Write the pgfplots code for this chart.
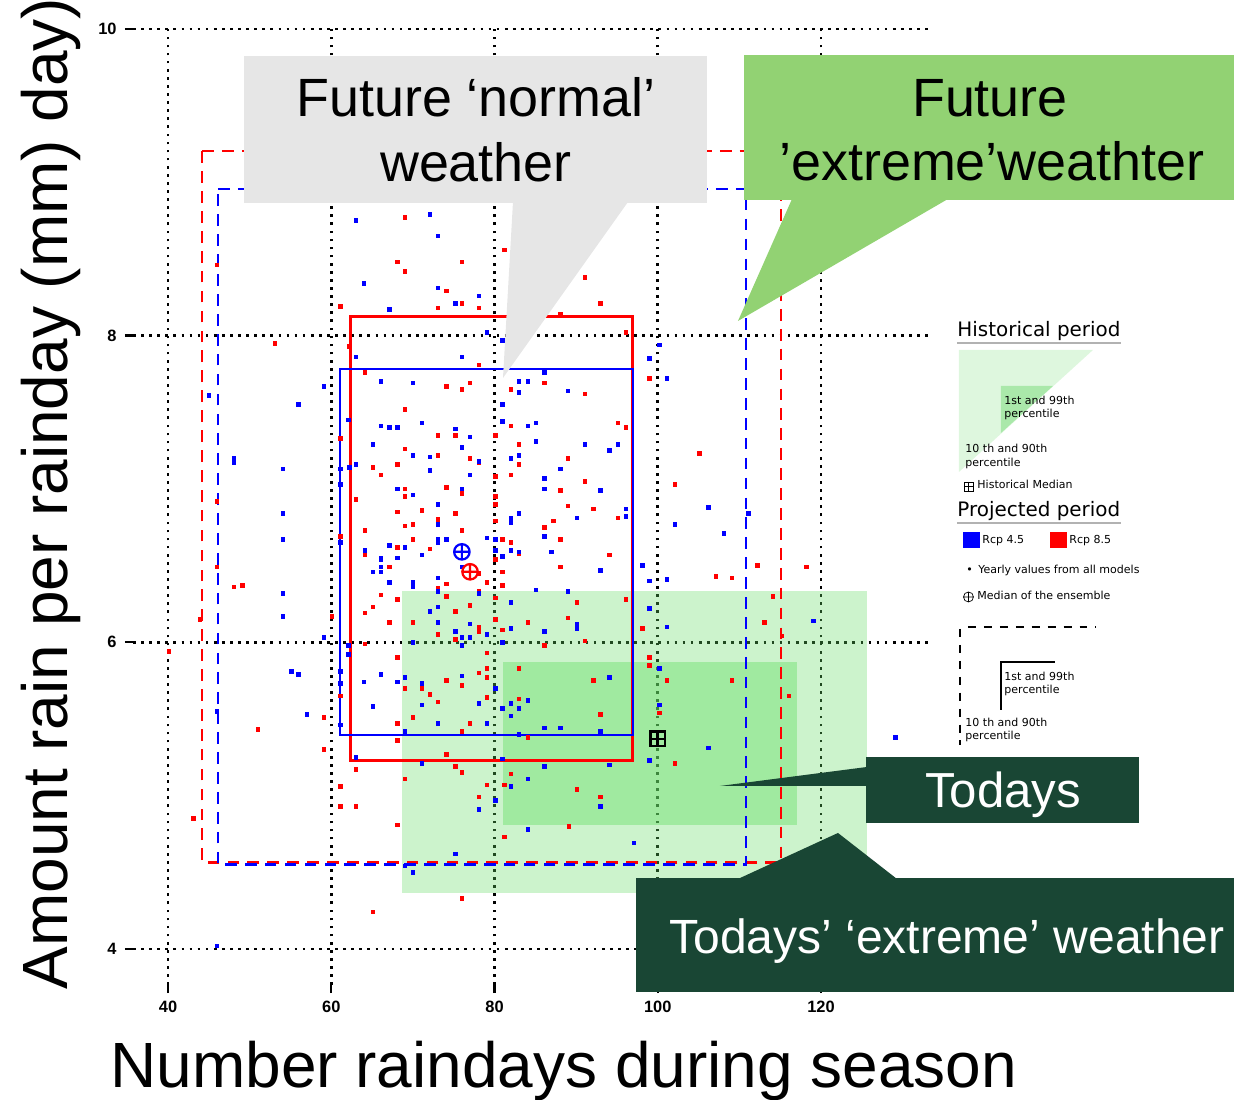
\documentclass[border=0pt]{standalone}
\usepackage{fontspec}
\setmainfont{Liberation Sans}
\newfontfamily\legfont{DejaVu Sans}
\usepackage{pgfplots}
\usepackage{pgfplotstable}
\pgfplotsset{compat=1.18}

\definecolor{calloutgrey}{RGB}{230,230,230}
\definecolor{calloutgreen}{RGB}{146,210,115}
\definecolor{darkgreen}{RGB}{25,70,52}
\definecolor{histgreen}{RGB}{100,220,100}
\definecolor{leglight}{RGB}{222,247,222}
\definecolor{legdark}{RGB}{170,232,170}

% yearly values, Rcp 8.5
\pgfplotstableread{
x y
69.0 8.77
81.2 8.56
68.1 8.48
76.0 8.48
69.0 8.42
91.1 8.38
74.1 8.29
61.1 8.19
73.1 8.18
76.0 8.21
78.1 8.18
93.0 8.21
88.1 8.14
96.1 8.02
53.1 7.95
62.2 7.93
78.1 7.81
64.1 7.76
74.1 7.67
76.0 7.65
77.0 7.69
82.0 7.65
86.1 7.69
91.1 7.62
69.0 7.52
82.0 7.41
95.1 7.43
96.1 7.40
75.2 7.35
73.1 7.35
80.1 7.35
83.0 7.29
69.0 7.26
73.1 7.22
77.0 7.20
78.1 7.17
83.0 7.16
89.0 7.20
65.1 7.14
68.1 7.16
66.1 7.09
80.1 7.08
82.0 7.09
91.1 7.05
88.1 6.99
74.1 7.01
69.0 7.00
69.0 6.95
76.0 6.97
80.1 6.95
63.0 6.93
73.1 6.90
80.1 6.90
89.0 6.89
92.1 6.87
71.1 6.86
68.1 6.85
75.2 6.84
87.2 6.79
86.1 6.75
95.1 6.81
73.1 6.80
80.1 6.79
70.0 6.77
69.0 6.76
64.1 6.73
76.0 6.73
88.1 6.67
81.0 6.67
82.0 6.65
70.0 6.67
68.1 6.62
72.1 6.61
64.1 6.57
82.0 6.60
83.0 6.58
80.1 6.54
94.1 6.57
67.1 6.49
88.1 6.49
73.1 6.35
74.1 6.38
79.1 6.39
78.1 6.45
81.0 6.37
81.0 6.46
66.1 6.31
68.1 6.28
74.1 6.30
78.1 6.33
80.1 6.29
90.1 6.26
96.1 6.28
65.1 6.23
64.1 6.19
75.2 6.20
77.0 6.24
67.1 6.13
70.0 6.13
78.1 6.10
80.1 6.15
81.0 6.08
84.1 6.13
89.0 6.16
73.1 6.05
78.1 6.07
75.2 6.02
64.1 5.99
86.1 5.98
91.1 6.01
98.1 6.09
79.1 5.93
68.1 5.90
74.1 5.75
79.1 5.83
78.1 5.80
79.1 5.77
69.0 5.70
71.1 5.70
76.0 5.72
72.1 5.66
79.1 5.64
83.0 5.83
92.1 5.75
73.1 5.61
83.0 5.63
70.0 5.51
77.0 5.47
68.1 5.47
76.0 5.42
93.0 5.53
84.1 5.38
68.1 5.36
74.1 5.27
63.0 5.17
75.2 5.19
76.0 5.15
82.0 5.14
79.1 5.07
81.2 5.07
90.1 5.04
93.0 4.99
78.1 4.99
68.1 4.81
89.1 4.80
81.2 4.73
76.0 4.33
69.0 5.11
46.0 8.46
48.1 6.36
49.1 6.37
43.9 6.15
60.1 6.17
40.1 5.94
61.1 5.65
59.1 5.51
51.0 5.43
59.1 5.30
61.1 5.06
61.1 4.93
63.0 4.93
43.1 4.85
65.1 4.24
46.0 6.49
46.0 6.92
61.1 6.69
61.1 7.33
99.0 7.72
105.1 7.23
102.1 7.03
112.2 6.50
118.2 6.49
107.1 6.43
109.1 6.42
114.1 6.30
113.1 6.13
115.2 6.04
99.0 5.90
99.0 5.85
101.1 5.75
109.1 5.75
116.1 5.65
100.2 5.54
102.1 5.21
}\redpts

% yearly values, Rcp 4.5
\pgfplotstableread{
x y
63.0 8.75
72.1 8.79
73.1 8.65
64.0 8.34
73.1 8.31
78.1 8.26
67.1 8.17
75.2 8.21
79.1 8.02
81.0 7.97
100.2 7.94
63.0 7.86
76.0 7.86
99.0 7.85
66.1 7.70
70.0 7.69
83.0 7.70
84.1 7.70
83.0 7.63
86.1 7.76
89.0 7.64
81.0 7.55
71.1 7.43
66.1 7.41
67.1 7.40
68.1 7.40
81.0 7.44
84.1 7.41
85.1 7.43
75.2 7.39
77.0 7.34
76.0 7.27
85.1 7.31
65.1 7.29
91.1 7.29
94.1 7.25
95.1 7.29
70.0 7.22
72.1 7.21
78.1 7.18
82.0 7.20
83.0 7.22
72.1 7.12
77.0 7.09
63.0 7.16
62.2 7.14
88.1 7.13
86.1 7.07
86.1 7.00
93.0 6.99
68.1 7.00
70.0 6.96
76.0 7.00
73.1 6.90
96.1 6.87
83.0 6.84
82.0 6.81
82.0 6.78
96.1 6.82
90.1 6.81
73.1 6.77
86.1 6.69
79.1 6.68
73.1 6.67
74.1 6.67
73.1 6.65
67.1 6.63
69.0 6.62
64.1 6.60
66.1 6.55
66.1 6.54
68.1 6.55
71.1 6.57
80.1 6.67
80.1 6.60
82.0 6.60
83.0 6.59
81.0 6.56
87.0 6.59
66.1 6.49
65.1 6.46
66.1 6.46
67.1 6.39
93.0 6.47
98.1 6.50
70.0 6.39
70.0 6.36
73.1 6.42
76.0 6.49
73.1 6.33
78.1 6.32
82.0 6.26
85.1 6.34
89.0 6.33
72.1 6.20
73.1 6.23
73.1 6.13
77.0 6.12
82.0 6.09
86.1 6.07
90.1 6.12
90.1 6.09
75.2 6.07
79.1 6.05
76.0 6.03
77.0 6.03
76.0 5.98
70.0 6.00
81.0 6.00
62.1 5.98
62.1 5.92
64.0 5.74
66.1 5.79
68.1 5.74
76.0 5.78
69.0 5.77
71.1 5.73
80.1 5.70
94.1 5.77
65.1 5.58
71.1 5.59
78.1 5.60
84.1 5.62
82.0 5.60
81.0 5.57
83.0 5.57
82.0 5.52
73.1 5.47
79.1 5.47
69.0 5.42
86.1 5.44
88.1 5.44
93.0 5.42
83.0 5.40
63.0 5.25
81.0 5.24
86.1 5.19
94.1 5.20
71.1 5.21
82.0 5.06
84.1 5.11
93.0 4.93
78.1 4.91
80.1 4.97
84.1 4.78
97.1 4.69
75.2 4.62
70.0 4.50
69.0 4.54
99.0 5.23
99.0 6.40
101.1 6.41
99.0 6.22
101.1 6.10
100.2 5.83
100.2 5.59
59.1 7.67
45.0 7.61
56.0 7.55
62.1 7.45
48.1 7.20
48.1 7.17
54.1 7.13
61.1 7.13
61.1 7.03
54.1 6.84
61.1 6.65
54.1 6.67
54.1 6.32
54.1 6.17
59.1 6.03
55.1 5.81
56.0 5.79
61.1 5.81
61.1 5.73
46.0 5.55
57.0 5.53
61.1 5.46
46.0 4.02
101.1 7.72
106.2 6.88
102.1 6.77
108.1 6.71
111.1 6.84
119.1 6.14
106.2 5.31
129.1 5.38
}\bluepts

\begin{document}
\begin{tikzpicture}
\useasboundingbox (0,0) rectangle (18.51cm,16.485cm);
\begin{axis}[
    at={(1.995cm,1.71cm)}, anchor=south west,
    width=11.955cm, height=14.34cm, scale only axis,
    xmin=35.71, xmax=133.35, ymin=3.765, ymax=10,
    xtick={40,60,80,100,120}, ytick={4,6,8,10},
    axis line style={draw=none},
    tick align=outside, xtick pos=bottom, ytick pos=left,
    major tick length=3.5pt,
    tick style={black, line width=1pt},
    grid=major,
    grid style={black, line width=1.15pt, dash pattern=on 1.15pt off 2.3pt},
    tick label style={font=\bfseries\fontsize{7}{8}\selectfont},
    /pgf/number format/assume math mode=true,
  ]
  % yearly values from all models
  \addplot[only marks, mark=square*, mark size=0.75pt, red] table {\redpts};
  \addplot[only marks, mark=square*, mark size=0.75pt, blue] table {\bluepts};

  % historical period: 1st-99th and 10th-90th percentile
  \addplot[draw=none, fill=histgreen, fill opacity=0.33]
    coordinates {(68.66,6.336) (125.61,6.336) (125.61,4.368) (68.66,4.368)} -- cycle;
  \addplot[draw=none, fill=histgreen, fill opacity=0.42]
    coordinates {(81.03,5.874) (117.04,5.874) (117.04,4.811) (81.03,4.811)} -- cycle;

  % projected 1st-99th percentile
  \addplot[red, line width=1.15pt, dash pattern=on 5pt off 3.5pt]
    coordinates {(44.16,9.205) (115.08,9.205) (115.08,4.563) (44.16,4.563) (44.16,9.205)};
  \addplot[blue, line width=1.15pt, dash pattern=on 5pt off 3.5pt]
    coordinates {(46.12,8.957) (110.79,8.957) (110.79,4.550) (46.12,4.550) (46.12,8.957)};

  % projected 10th-90th percentile
  \addplot[red, line width=1.25pt]
    coordinates {(62.41,8.123) (96.95,8.123) (96.95,5.228) (62.41,5.228)} -- cycle;
  \addplot[blue, line width=0.9pt]
    coordinates {(61.07,7.784) (96.95,7.784) (96.95,5.398) (61.07,5.398)} -- cycle;

  % medians
  \addplot[only marks, blue, mark=oplus, mark size=3.3pt, line width=0.95pt] coordinates {(76.0,6.59)};
  \addplot[only marks, red, mark=oplus, mark size=3.3pt, line width=0.95pt] coordinates {(77.0,6.46)};
  \addplot[only marks, black, mark=square, mark size=3.1pt, line width=1.1pt] coordinates {(100.0,5.37)};
  \addplot[only marks, black, mark=+, mark size=3.1pt, line width=1.1pt] coordinates {(100.0,5.37)};
\end{axis}

\begin{scope}[x=0.015cm, y=-0.015cm, shift={(0,16.485cm)}]
  % axis titles
  \node[anchor=base west, font=\fontsize{27.3}{30}\selectfont, inner sep=0pt]
    at (110,1088) {Number raindays during season};
  \node[anchor=base west, rotate=90, font=\fontsize{27.3}{30}\selectfont, inner sep=0pt]
    at (68,990) {Amount rain per rainday (mm) day)};

  % callouts
  \fill[calloutgrey] (244,56) rectangle (707,203);
  \fill[calloutgrey] (513,202) -- (628,202) -- (503,378) -- cycle;
  \node[anchor=base, font=\fontsize{23}{27}\selectfont] at (476,117) {Future ‘normal’};
  \node[anchor=base, font=\fontsize{23}{27}\selectfont] at (476,182) {weather};

  \fill[calloutgreen] (744,55) rectangle (1234,200);
  \fill[calloutgreen] (792,199) -- (948,199) -- (738,321) -- cycle;
  \node[anchor=base, font=\fontsize{23}{27}\selectfont] at (990,117) {Future};
  \node[anchor=base, font=\fontsize{23}{27}\selectfont] at (992,181) {’extreme’weathter};

  \fill[darkgreen] (866,757) rectangle (1139,823);
  \fill[darkgreen] (867,767) -- (720,786) -- (867,786) -- cycle;
  \node[anchor=base, text=white, font=\fontsize{21}{25}\selectfont] at (1003,808) {Todays};

  \fill[darkgreen] (636,878) rectangle (1234,992);
  \fill[darkgreen] (738,879) -- (838,833) -- (897,879) -- cycle;
  \node[anchor=base, text=white, font=\fontsize{20.5}{25}\selectfont] at (947,954) {Todays’ ‘extreme’ weather};

  % legend
  \begin{scope}[every node/.style={anchor=base west, inner sep=0pt}]
    \node[font=\legfont\fontsize{8.5}{10}\selectfont] at (957,337) {Historical period};
    \draw[gray!60, line width=0.8pt] (957,343) -- (1121,343);
    \fill[leglight] (959,350) -- (1093,350) -- (959,472) -- cycle;
    \fill[legdark] (1001,386) -- (1053,386) -- (1001,433) -- cycle;
    \node[font=\legfont\fontsize{4.7}{5.6}\selectfont] at (1004,405) {1st and 99th};
    \node[font=\legfont\fontsize{4.7}{5.6}\selectfont] at (1004,418) {percentile};
    \node[font=\legfont\fontsize{4.7}{5.6}\selectfont] at (965,453) {10 th and 90th};
    \node[font=\legfont\fontsize{4.7}{5.6}\selectfont] at (965,467) {percentile};
    \draw[black, line width=0.3pt] (964,482) rectangle (973,491) (968.5,482) -- (968.5,491) (964,486.5) -- (973,486.5);
    \node[font=\legfont\fontsize{4.7}{5.6}\selectfont] at (977,489) {Historical Median};

    \node[font=\legfont\fontsize{8.5}{10}\selectfont] at (957,517) {Projected period};
    \draw[gray!60, line width=0.8pt] (957,523) -- (1121,523);
    \fill[blue] (963,532) rectangle (980,548);
    \node[font=\legfont\fontsize{4.7}{5.6}\selectfont] at (982,544) {Rcp 4.5};
    \fill[red] (1050,532) rectangle (1067,548);
    \node[font=\legfont\fontsize{4.7}{5.6}\selectfont] at (1069,544) {Rcp 8.5};
    \node[font=\legfont\fontsize{4.7}{5.6}\selectfont] at (966,574) {•\, Yearly values from all models};
    \draw[black, line width=0.3pt] (968.5,597) circle (5) (963.5,597) -- (973.5,597) (968.5,592) -- (968.5,602);
    \node[font=\legfont\fontsize{4.7}{5.6}\selectfont] at (977,600) {Median of the ensemble};

    \draw[black, line width=0.8pt, dash pattern=on 3.4pt off 3.4pt] (968,627) -- (1096,627);
    \draw[black, line width=0.8pt, dash pattern=on 3.4pt off 3.4pt] (960,629) -- (960,745);
    \draw[black, line width=0.8pt] (1001,710) -- (1001,662) -- (1055,662);
    \node[font=\legfont\fontsize{4.7}{5.6}\selectfont] at (1004,681) {1st and 99th};
    \node[font=\legfont\fontsize{4.7}{5.6}\selectfont] at (1004,694) {percentile};
    \node[font=\legfont\fontsize{4.7}{5.6}\selectfont] at (965,727) {10 th and 90th};
    \node[font=\legfont\fontsize{4.7}{5.6}\selectfont] at (965,740) {percentile};
  \end{scope}
\end{scope}
\end{tikzpicture}
\end{document}
